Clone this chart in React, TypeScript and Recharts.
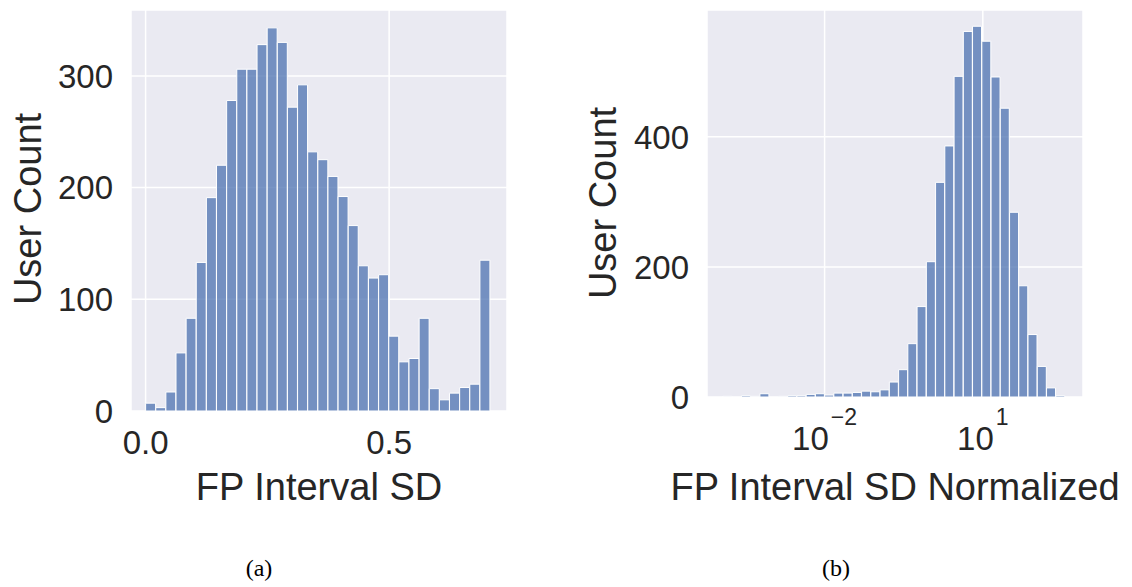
import React from 'react';
import { BarChart, Bar, XAxis, YAxis, CartesianGrid } from 'recharts';

// Panel (a): FP interval standard deviation, bin centres and user counts
const sdBinCenters = [
  0.0104, 0.0312, 0.052, 0.0728, 0.0936, 0.1144, 0.1352, 0.156, 0.1768, 0.1976,
  0.2184, 0.2392, 0.26, 0.2808, 0.3016, 0.3224, 0.3432, 0.364, 0.3848, 0.4056,
  0.4264, 0.4472, 0.468, 0.4888, 0.5096, 0.5304, 0.5512, 0.572, 0.5928, 0.6136,
  0.6344, 0.6552, 0.676, 0.6968,
];
const sdCounts = [
  7, 3, 17, 52, 83, 133, 191, 220, 278, 306,
  306, 328, 343, 330, 272, 292, 232, 225, 210, 192,
  166, 130, 119, 122, 67, 44, 47, 83, 20, 10,
  16, 21, 24, 135,
];
const sdTicks = [0, 0.5];
const sdCountTicks = [0, 100, 200, 300];

// Panel (b): normalized SD on a log axis, bin centres given as log10 values
const normBinCenters = [
  -3.84, -3.665, -3.49, -3.314, -3.139, -2.964, -2.788, -2.613, -2.438, -2.262,
  -2.087, -1.912, -1.737, -1.561, -1.386, -1.211, -1.035, -0.86, -0.685, -0.509,
  -0.334, -0.159, 0.017, 0.192, 0.367, 0.543, 0.718, 0.893, 1.069, 1.244,
  1.419, 1.595, 1.77, 1.945, 2.121, 2.296, 2.471,
];
const normCounts = [
  1, 0, 2, 1, 5, 0, 1, 2, 2, 4,
  5, 3, 6, 6, 7, 9, 8, 11, 23, 42,
  82, 139, 208, 330, 386, 493, 562, 570, 547, 492,
  444, 284, 171, 96, 47, 14, 2,
];
const normExponentTicks = [-2, 1];
const normCountTicks = [0, 200, 400];

const sdData = sdBinCenters.map((x, i) => ({ x, count: sdCounts[i] }));
const normData = normBinCenters.map((x, i) => ({ x, count: normCounts[i] }));

const INK = '#262626';
const SANS = '"Liberation Sans", Arial, Helvetica, sans-serif';
const SERIF = '"Liberation Serif", "Times New Roman", serif';
const PANEL_BG = '#EAEAF2';
const BAR_FILL = '#4C72B0';

const tickStyle = { fill: INK, fontSize: 33, fontFamily: SANS };

// Renders a log-axis tick as 10 with a raised exponent
const PowerTick = (props: any) => {
  const { x, y, payload } = props;
  const exp = Number(payload.value);
  const expText = exp < 0 ? `\u2212${-exp}` : `${exp}`;
  return (
    <text x={x} y={y} textAnchor="middle" fill={INK} fontFamily={SANS} fontSize={33}>
      <tspan>10</tspan>
      <tspan dx={2} dy={-25} fontSize={23}>{expText}</tspan>
    </text>
  );
};

export default function App() {
  return (
    <div
      style={{
        position: 'absolute',
        left: 0,
        top: 0,
        width: 1132,
        height: 587,
        background: '#ffffff',
        overflow: 'hidden',
      }}
    >
      <div style={{ position: 'absolute', left: 0, top: 0 }}>
        <BarChart
          width={540}
          height={470}
          data={sdData}
          margin={{ top: 10, right: 33, bottom: 0, left: 0 }}
          barCategoryGap={0}
          barGap={0}
        >
          <CartesianGrid fill={PANEL_BG} fillOpacity={1} stroke="#ffffff" strokeWidth={1.5} />
          <XAxis
            dataKey="x"
            type="number"
            domain={[-0.03, 0.742]}
            allowDataOverflow
            ticks={sdTicks}
            interval={0}
            tickFormatter={(v: number) => v.toFixed(1)}
            axisLine={false}
            tickLine={false}
            tickSize={0}
            tickMargin={20}
            height={59}
            tick={tickStyle}
          />
          <YAxis
            type="number"
            domain={[0, 359]}
            allowDataOverflow
            ticks={sdCountTicks}
            interval={0}
            axisLine={false}
            tickLine={false}
            tickSize={0}
            tickMargin={18}
            width={131}
            tick={tickStyle}
          />
          <Bar
            dataKey="count"
            fill={BAR_FILL}
            fillOpacity={0.75}
            stroke="#ffffff"
            strokeWidth={1}
            isAnimationActive={false}
          />
        </BarChart>
      </div>

      <div style={{ position: 'absolute', left: 560, top: 0 }}>
        <BarChart
          width={560}
          height={470}
          data={normData}
          margin={{ top: 10, right: 37, bottom: 0, left: 0 }}
          barCategoryGap={0}
          barGap={0}
        >
          <CartesianGrid fill={PANEL_BG} fillOpacity={1} stroke="#ffffff" strokeWidth={1.5} />
          <XAxis
            dataKey="x"
            type="number"
            domain={[-4.23, 2.9]}
            allowDataOverflow
            ticks={normExponentTicks}
            interval={0}
            axisLine={false}
            tickLine={false}
            tickSize={0}
            tickMargin={53}
            height={73}
            tick={<PowerTick />}
          />
          <YAxis
            type="number"
            domain={[0, 595]}
            allowDataOverflow
            ticks={normCountTicks}
            interval={0}
            axisLine={false}
            tickLine={false}
            tickSize={0}
            tickMargin={18}
            width={147}
            tick={tickStyle}
          />
          <Bar
            dataKey="count"
            fill={BAR_FILL}
            fillOpacity={0.75}
            stroke="#ffffff"
            strokeWidth={1}
            isAnimationActive={false}
          />
        </BarChart>
      </div>

      <svg
        width={1132}
        height={587}
        style={{ position: 'absolute', left: 0, top: 0, pointerEvents: 'none' }}
      >
        <text x={319} y={500} textAnchor="middle" fill={INK} fontFamily={SANS} fontSize={38}>
          FP Interval SD
        </text>
        <text x={895} y={500} textAnchor="middle" fill={INK} fontFamily={SANS} fontSize={38}>
          FP Interval SD Normalized
        </text>
        <text
          x={41}
          y={209}
          textAnchor="middle"
          fill={INK}
          fontFamily={SANS}
          fontSize={38}
          transform="rotate(-90 41 209)"
        >
          User Count
        </text>
        <text
          x={616}
          y={203}
          textAnchor="middle"
          fill={INK}
          fontFamily={SANS}
          fontSize={38}
          transform="rotate(-90 616 203)"
        >
          User Count
        </text>
        <text x={259} y={576} textAnchor="middle" fill="#000000" fontFamily={SERIF} fontSize={24}>
          (a)
        </text>
        <text x={836} y={576} textAnchor="middle" fill="#000000" fontFamily={SERIF} fontSize={24}>
          (b)
        </text>
      </svg>
    </div>
  );
}
